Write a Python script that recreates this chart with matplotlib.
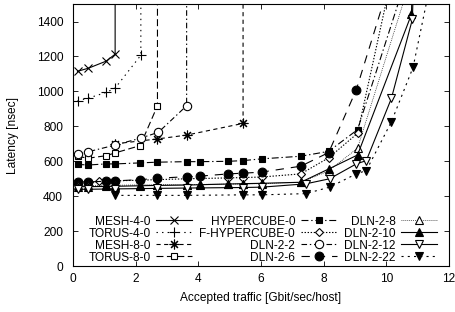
import matplotlib
matplotlib.use("Agg")
import matplotlib.pyplot as plt

plt.rcParams['font.family'] = ['Liberation Sans', 'DejaVu Sans']
plt.rcParams['lines.scale_dashes'] = False

# ---- data ----
mesh4_x = [0.15, 0.5, 1.06, 1.35, 1.35]
mesh4_y = [1115, 1133, 1173, 1213, 3000]

torus4_x = [0.15, 0.5, 1.06, 1.35, 2.17, 2.17]
torus4_y = [946, 962, 994, 1019, 1207, 3000]

mesh8_x = [1.35, 2.7, 3.63, 5.43, 5.43]
mesh8_y = [700, 728, 750, 817, 3000]

torus8_x = [0.15, 0.5, 1.06, 1.35, 2.15, 2.7, 2.7]
torus8_y = [628, 618, 632, 648, 690, 918, 3000]

hyper_x = [0.15, 0.5, 1.06, 1.35, 2.15, 2.7, 3.63, 4.05, 4.96, 5.43, 6.02, 7.27, 8.16, 9.08, 10.9]
hyper_y = [582, 579, 585, 585, 591, 595, 598, 598, 600, 604, 614, 629, 657, 781, 1795]

fhyper_x = [0.15, 0.5, 0.85, 1.35, 2.15, 2.7, 3.63, 4.96, 5.43, 6.02, 7.27, 8.16, 9.08, 10.5]
fhyper_y = [470, 472, 490, 488, 492, 495, 500, 505, 507, 510, 528, 620, 760, 1927]

dln2_x = [0.15, 0.5, 1.35, 2.17, 2.73, 3.63, 3.63]
dln2_y = [642, 655, 693, 733, 766, 918, 3000]

dln6_x = [0.15, 0.5, 1.06, 1.35, 2.15, 2.7, 3.63, 4.05, 4.96, 5.43, 6.02, 7.27, 8.16, 9.04, 10.5]
dln6_y = [482, 482, 486, 488, 495, 503, 512, 515, 528, 532, 538, 572, 650, 1009, 1853]

dln8_x = [0.15, 0.5, 1.06, 1.35, 2.15, 2.7, 3.63, 4.05, 4.96, 5.43, 6.02, 7.27, 8.16, 9.08, 11.0]
dln8_y = [462, 462, 463, 463, 465, 466, 467, 468, 470, 470, 472, 480, 545, 675, 1771]

dln10_x = [0.15, 0.5, 1.06, 1.35, 2.15, 2.7, 3.63, 4.05, 4.96, 5.43, 6.02, 7.27, 8.16, 9.08, 10.8, 11.0]
dln10_y = [455, 455, 456, 457, 460, 462, 464, 466, 470, 472, 474, 480, 556, 636, 1441, 2800]

dln12_x = [0.15, 0.5, 1.35, 2.7, 3.63, 5.43, 6.02, 7.43, 8.19, 9.04, 9.36, 10.16, 10.83, 11.0]
dln12_y = [440, 440, 442, 445, 447, 450, 452, 471, 500, 585, 604, 960, 1413, 2500]

dln22_x = [1.35, 2.7, 3.63, 5.43, 6.02, 7.43, 8.19, 9.04, 9.36, 10.16, 10.85, 11.6]
dln22_y = [405, 405, 405, 408, 408, 415, 452, 528, 547, 826, 1137, 1785]

labels = ["MESH-4-0", "TORUS-4-0", "MESH-8-0", "TORUS-8-0",
          "HYPERCUBE-0", "F-HYPERCUBE-0", "DLN-2-2", "DLN-2-6",
          "DLN-2-8", "DLN-2-10", "DLN-2-12", "DLN-2-22"]
xticks = [0, 2, 4, 6, 8, 10, 12]
yticks = [0, 200, 400, 600, 800, 1000, 1200, 1400]

series = [
    (mesh4_x, mesh4_y, dict(ls='-', marker='x', ms=6, mfc='k')),
    (torus4_x, torus4_y, dict(ls=(0, (1, 3)), marker='+', ms=7, mfc='k')),
    (mesh8_x, mesh8_y, dict(ls=(0, (3, 2.5)), marker=(8, 2, 0), ms=7, mfc='k')),
    (torus8_x, torus8_y, dict(ls=(0, (5, 2.5)), marker='s', ms=5, mfc='white')),
    (hyper_x, hyper_y, dict(ls=(0, (5, 2, 1, 2)), marker='s', ms=5, mfc='k')),
    (fhyper_x, fhyper_y, dict(ls=(0, (1, 1.2)), marker='D', ms=4.2, mfc='white')),
    (dln2_x, dln2_y, dict(ls=(0, (4, 2, 1, 2)), marker='o', ms=6, mfc='white')),
    (dln6_x, dln6_y, dict(ls=(0, (6, 5)), marker='o', ms=6.3, mfc='k')),
    (dln8_x, dln8_y, dict(ls=(0, (0.6, 0.8)), marker='^', ms=5.5, mfc='white', lw=0.5)),
    (dln10_x, dln10_y, dict(ls='-', marker='^', ms=5.5, mfc='k')),
    (dln12_x, dln12_y, dict(ls='-', marker='v', ms=5.5, mfc='white')),
    (dln22_x, dln22_y, dict(ls=(0, (1.5, 3)), marker='v', ms=5.5, mfc='k')),
]

fig = plt.figure(figsize=(4.55, 3.12), dpi=100)
ax = fig.add_axes([0.160, 0.147, 0.827, 0.840])

for (xs, ys, st), lab in zip(series, labels):
    kw = dict(color='k', lw=0.8, mec='k', mew=0.8)
    kw.update(st)
    ax.plot(xs, ys, label=lab, **kw)

ax.set_xlim(0, 12)
ax.set_ylim(0, 1500)
ax.set_xticks(xticks)
ax.set_yticks(yticks)
ax.tick_params(direction='in', top=True, right=True, length=3.5, width=0.6,
               labelsize=8.6)
ax.tick_params(axis='y', pad=7)
ax.tick_params(axis='x', pad=5)
for s in ax.spines.values():
    s.set_linewidth(0.8)

ax.set_xlabel("Accepted traffic [Gbit/sec/host]", fontsize=8.6, labelpad=5)
ax.set_ylabel("Latency [nsec]", fontsize=8.6, labelpad=13)

leg = ax.legend(ncol=3, loc='lower center', bbox_to_anchor=(0.505, 0.01),
                frameon=False, markerfirst=False, fontsize=8.6,
                handlelength=3.0, handletextpad=0.5, columnspacing=0.6,
                labelspacing=0.0, borderpad=0.0, borderaxespad=0.0)

fig.savefig("out.png", dpi=100)
